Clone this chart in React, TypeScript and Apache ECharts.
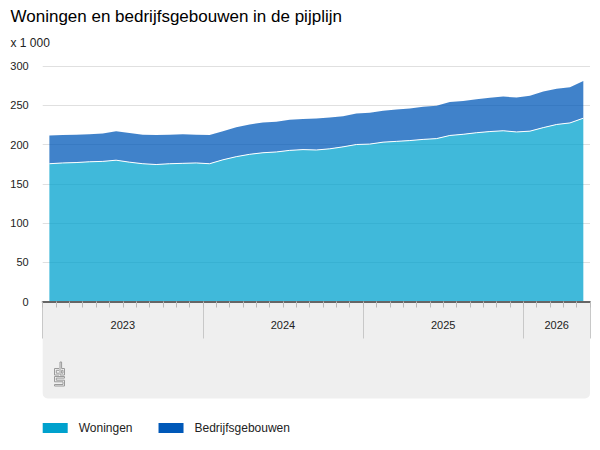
import React, { useEffect, useRef } from "react";
import * as echarts from "echarts";

const months = [
  "2023 jan", "2023 feb", "2023 mrt", "2023 apr", "2023 mei", "2023 jun",
  "2023 jul", "2023 aug", "2023 sep", "2023 okt", "2023 nov", "2023 dec",
  "2024 jan", "2024 feb", "2024 mrt", "2024 apr", "2024 mei", "2024 jun",
  "2024 jul", "2024 aug", "2024 sep", "2024 okt", "2024 nov", "2024 dec",
  "2025 jan", "2025 feb", "2025 mrt", "2025 apr", "2025 mei", "2025 jun",
  "2025 jul", "2025 aug", "2025 sep", "2025 okt", "2025 nov", "2025 dec",
  "2026 jan", "2026 feb", "2026 mrt", "2026 apr", "2026 mei",
];

const woningen = [
  175.5, 176.5, 177, 178, 178.5, 180, 177.5, 175.5, 174.5, 175.5, 176, 176.5,
  175.5, 180.5, 184.5, 187.5, 189.5, 190.5, 192.5, 193.5, 193, 194.5, 197, 200,
  200.5, 203, 204, 205, 206.5, 207.5, 211.5, 213, 215, 216.5, 217.5, 216,
  217, 221.5, 225.5, 227.5, 233.5,
];

const bedrijfsgebouwen = [
  36, 35.5, 35.5, 35, 35.5, 37, 37, 37, 37.5, 37, 37, 36,
  36.5, 36.5, 37.5, 38, 38.5, 38.5, 39, 39, 40, 40, 39, 39.5,
  40, 40, 40.5, 41, 41.5, 42, 42.5, 42.5, 42.5, 43, 43.5, 44,
  45, 46, 45.5, 45.5, 47.5,
];

const years = ["2023", "2024", "2025", "2026"];
const yearStartIndex = [0, 12, 24, 36];

const FONT = "'Liberation Sans', Arial, sans-serif";

const LOGO_D =
  "M5 7 H0.5 V13.5 H5 M5 8.8 H2.3 V11.7 H5 " +
  "M6 0.5 V13.5 H10.5 V7 H7.6 V0.5 Z M7.6 8.8 H9 V11.7 H7.6 Z " +
  "M10.5 15 H0.5 V20.3 H9 V23 H0.5 V24.5 H10.5 V18.7 H2.3 V16.6 H10.5 Z";

let logoRegistered = false;

export default function App() {
  const ref = useRef<HTMLDivElement>(null);

  useEffect(() => {
    if (!ref.current) return;
    if (!logoRegistered) {
      echarts.graphic.registerShape("logo", echarts.graphic.extendPath(LOGO_D, {}));
      logoRegistered = true;
    }
    const chart = echarts.init(ref.current, undefined, { renderer: "svg" });

    const total = months.length;
    const yearEnds = [...yearStartIndex.slice(1), total];
    const yearMids = yearStartIndex.map((s, i) => (s + yearEnds[i]) / 2);

    const option: any = {
      animation: false,
      textStyle: { fontFamily: FONT },
      title: {
        text: "Woningen en bedrijfsgebouwen in de pijplijn",
        left: 10.5,
        top: 8,
        padding: 0,
        textStyle: { fontSize: 17, fontWeight: "normal", color: "#000", fontFamily: FONT },
      },
      grid: { left: 42.7, right: 10, top: 66, bottom: 148.5, containLabel: false },
      legend: {
        left: 42.7,
        top: 422,
        padding: 0,
        icon: "rect",
        itemWidth: 25,
        itemHeight: 10,
        itemGap: 26,
        itemStyle: { borderWidth: 0 },
        textStyle: { fontSize: 12, color: "#222", padding: [0, 0, 0, 6], fontFamily: FONT },
        data: [
          { name: "Woningen", itemStyle: { color: "#00a1cd", opacity: 1 } },
          { name: "Bedrijfsgebouwen", itemStyle: { color: "#0058b8", opacity: 1 } },
        ],
      },
      xAxis: [
        {
          type: "category",
          data: months,
          boundaryGap: true,
          z: 5,
          axisLine: { lineStyle: { color: "#666", width: 2 } },
          axisTick: { show: true, interval: 0, length: 6, lineStyle: { color: "#bbb" } },
          axisLabel: { show: false },
          splitLine: { show: false },
        },
        {
          type: "value",
          min: 0,
          max: total,
          position: "bottom",
          axisLine: { show: false },
          axisTick: {
            show: true,
            customValues: [...yearStartIndex, total],
            length: 37,
            lineStyle: { color: "#c8c8c8" },
          },
          axisLabel: {
            customValues: yearMids,
            formatter: (v: number) => {
              const i = yearMids.findIndex((m) => Math.abs(m - v) < 0.01);
              return i >= 0 ? years[i] : "";
            },
            margin: 18,
            fontSize: 11,
            color: "#222",
            fontFamily: FONT,
          },
          splitLine: { show: false },
        },
      ],
      yAxis: {
        type: "value",
        min: 0,
        max: 300,
        interval: 50,
        axisLine: { show: false },
        axisTick: { show: false },
        splitLine: { lineStyle: { color: "#e0e0e0", width: 1 } },
        axisLabel: { margin: 14, fontSize: 11, color: "#222", fontFamily: FONT },
      },
      graphic: [
        {
          type: "rect",
          z: -10,
          silent: true,
          shape: { x: 42.7, y: 301.5, width: 547.3, height: 97, r: [0, 0, 5, 5] },
          style: { fill: "#efefef" },
        },
        {
          type: "text",
          x: 10.5,
          y: 36.5,
          style: { text: "x 1 000", fontSize: 12, fill: "#222", fontFamily: FONT, verticalAlign: "top" },
        },
        {
          type: "logo",
          x: 54,
          y: 361.5,
          silent: true,
          style: { stroke: "#9a9a9a", fill: "none", lineWidth: 1 },
        },
      ],
      series: [
        {
          name: "Woningen",
          type: "line",
          stack: "total",
          data: woningen,
          symbol: "none",
          z: 3,
          itemStyle: { color: "#00a1cd" },
          lineStyle: { color: "#ffffff", width: 1 },
          areaStyle: { color: "#00a1cd", opacity: 0.75 },
        },
        {
          name: "Bedrijfsgebouwen",
          type: "line",
          stack: "total",
          data: bedrijfsgebouwen,
          symbol: "none",
          z: 2,
          itemStyle: { color: "#0058b8" },
          lineStyle: { width: 0 },
          areaStyle: { color: "#0058b8", opacity: 0.75 },
        },
      ],
    };

    chart.setOption(option);
    return () => chart.dispose();
  }, []);

  return (
    <div
      ref={ref}
      style={{ position: "absolute", left: 0, top: 0, width: 600, height: 450, background: "#fff" }}
    />
  );
}
